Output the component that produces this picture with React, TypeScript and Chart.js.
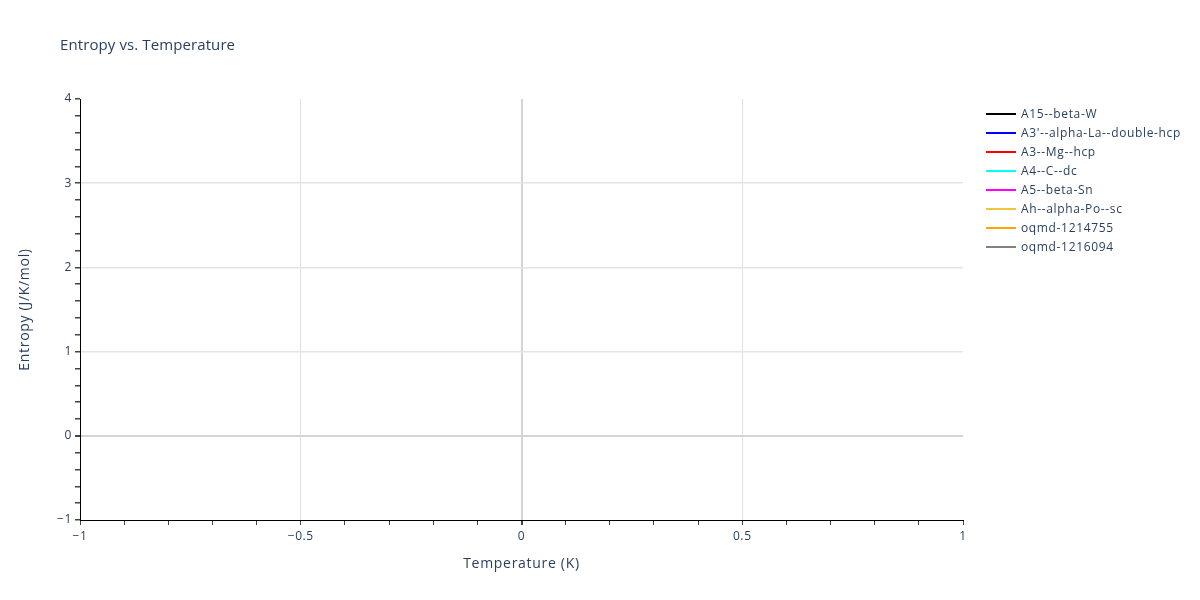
import { useEffect, useRef } from 'react';
import { Chart, registerables } from 'chart.js';

Chart.register(...registerables);

// series shown in the legend (the reference has no visible points)
const seriesNames = [
  'A15--beta-W',
  "A3'--alpha-La--double-hcp",
  'A3--Mg--hcp',
  'A4--C--dc',
  'A5--beta-Sn',
  'Ah--alpha-Po--sc',
  'oqmd-1214755',
  'oqmd-1216094',
];
const seriesColors = ['#000000', '#0000ff', '#ff0000', '#00ffff', '#ff00ff', '#efc53f', '#ffa500', '#808080'];
const seriesPoints: { x: number; y: number }[][] = [[], [], [], [], [], [], [], []];

const xRange = [-1, 1];
const yRange = [-1, 4];

const FONT = '"Open Sans", verdana, arial, sans-serif';
const TEXT = '#2a3f5f';

const isMajor = (v: number, step: number) => Math.abs(v / step - Math.round(v / step)) < 1e-6;
const fmt = (v: number) => {
  const r = Math.round(v * 100) / 100;
  return (r < 0 ? '\u2212' : '') + String(Math.abs(r));
};

// wider spacing to mimic the reference's text rendering
const spacingPlugin = {
  id: 'spacing',
  beforeDraw(chart: any) {
    chart.ctx.letterSpacing = '0.6px';
  },
};

const textPlugin = {
  id: 'plotlyText',
  afterDraw(chart: any) {
    const { ctx, chartArea } = chart;
    ctx.save();
    ctx.fillStyle = TEXT;
    ctx.textBaseline = 'middle';
    // title
    ctx.letterSpacing = '0.1px';
    ctx.font = `15px ${FONT}`;
    ctx.textAlign = 'left';
    ctx.fillText('Entropy vs. Temperature', 60, 46);
    // axis titles
    ctx.letterSpacing = '0.7px';
    ctx.font = `14px ${FONT}`;
    ctx.textAlign = 'center';
    ctx.fillText('Temperature (K)', (chartArea.left + chartArea.right) / 2, 564);
    ctx.save();
    ctx.translate(25, (chartArea.top + chartArea.bottom) / 2);
    ctx.rotate(-Math.PI / 2);
    ctx.fillText('Entropy (J/K/mol)', 0, 0);
    ctx.restore();
    // legend
    ctx.letterSpacing = '0.65px';
    ctx.font = `12px ${FONT}`;
    ctx.textAlign = 'left';
    chart.data.datasets.forEach((ds: any, i: number) => {
      const y = 114 + i * 19;
      ctx.strokeStyle = ds.borderColor;
      ctx.lineWidth = 2;
      ctx.beginPath();
      ctx.moveTo(986, y);
      ctx.lineTo(1016, y);
      ctx.stroke();
      ctx.fillStyle = TEXT;
      ctx.fillText(ds.label, 1021, y + 1);
    });
    ctx.restore();
  },
};

export default function App() {
  const canvasRef = useRef<HTMLCanvasElement>(null);

  useEffect(() => {
    if (!canvasRef.current) return;
    const chart = new Chart(canvasRef.current, {
      type: 'line',
      data: {
        datasets: seriesNames.map((name, i) => ({
          label: name,
          data: seriesPoints[i],
          borderColor: seriesColors[i],
          backgroundColor: seriesColors[i],
          borderWidth: 2,
          pointRadius: 0,
        })),
      },
      options: {
        responsive: true,
        maintainAspectRatio: false,
        animation: false,
        layout: { padding: { left: 0, top: 99, right: 1200 - 963, bottom: 0 } },
        plugins: { legend: { display: false }, tooltip: { enabled: false }, title: { display: false } },
        scales: {
          x: {
            type: 'linear',
            min: xRange[0],
            max: xRange[1],
            afterFit: (s: any) => { s.height = 80; },
            ticks: {
              stepSize: 0.1,
              autoSkip: false,
              maxRotation: 0,
              padding: 4,
              color: TEXT,
              font: { family: FONT, size: 12 },
              callback: (v: any) => (isMajor(Number(v), 0.5) ? fmt(Number(v)) : ''),
            },
            grid: {
              tickLength: 5,
              tickColor: '#444',
              color: (c: any) => {
                const v = c.tick?.value ?? 0;
                if (Math.abs(v) < 1e-6) return '#d4d4d4';
                if (v <= xRange[0] + 1e-6 || v >= xRange[1] - 1e-6) return 'rgba(0,0,0,0)';
                return isMajor(v, 0.5) ? '#e0e0e0' : 'rgba(0,0,0,0)';
              },
              lineWidth: (c: any) => (Math.abs(c.tick?.value ?? 1) < 1e-6 ? 2 : 1),
            },
            border: { display: true, color: '#000', width: 1 },
          },
          y: {
            type: 'linear',
            min: yRange[0],
            max: yRange[1],
            afterFit: (s: any) => { s.width = 80; },
            ticks: {
              stepSize: 0.2,
              autoSkip: false,
              padding: 3,
              color: TEXT,
              font: { family: FONT, size: 12 },
              callback: (v: any) => (isMajor(Number(v), 1) ? fmt(Number(v)) : ''),
            },
            grid: {
              tickLength: 5,
              tickColor: '#444',
              color: (c: any) => {
                const v = c.tick?.value ?? 0;
                if (Math.abs(v) < 1e-6) return '#d4d4d4';
                if (v <= yRange[0] + 1e-6 || v >= yRange[1] - 1e-6) return 'rgba(0,0,0,0)';
                return isMajor(v, 1) ? '#e4e4e4' : 'rgba(0,0,0,0)';
              },
              lineWidth: (c: any) => (Math.abs(c.tick?.value ?? 1) < 1e-6 ? 2 : 1.5),
            },
            border: { display: true, color: '#000', width: 1 },
          },
        },
      },
      plugins: [spacingPlugin, textPlugin],
    });
    return () => chart.destroy();
  }, []);

  return (
    <div style={{ position: 'absolute', left: 0, top: 0, width: 1200, height: 600, background: '#fff' }}>
      <canvas ref={canvasRef}></canvas>
    </div>
  );
}
